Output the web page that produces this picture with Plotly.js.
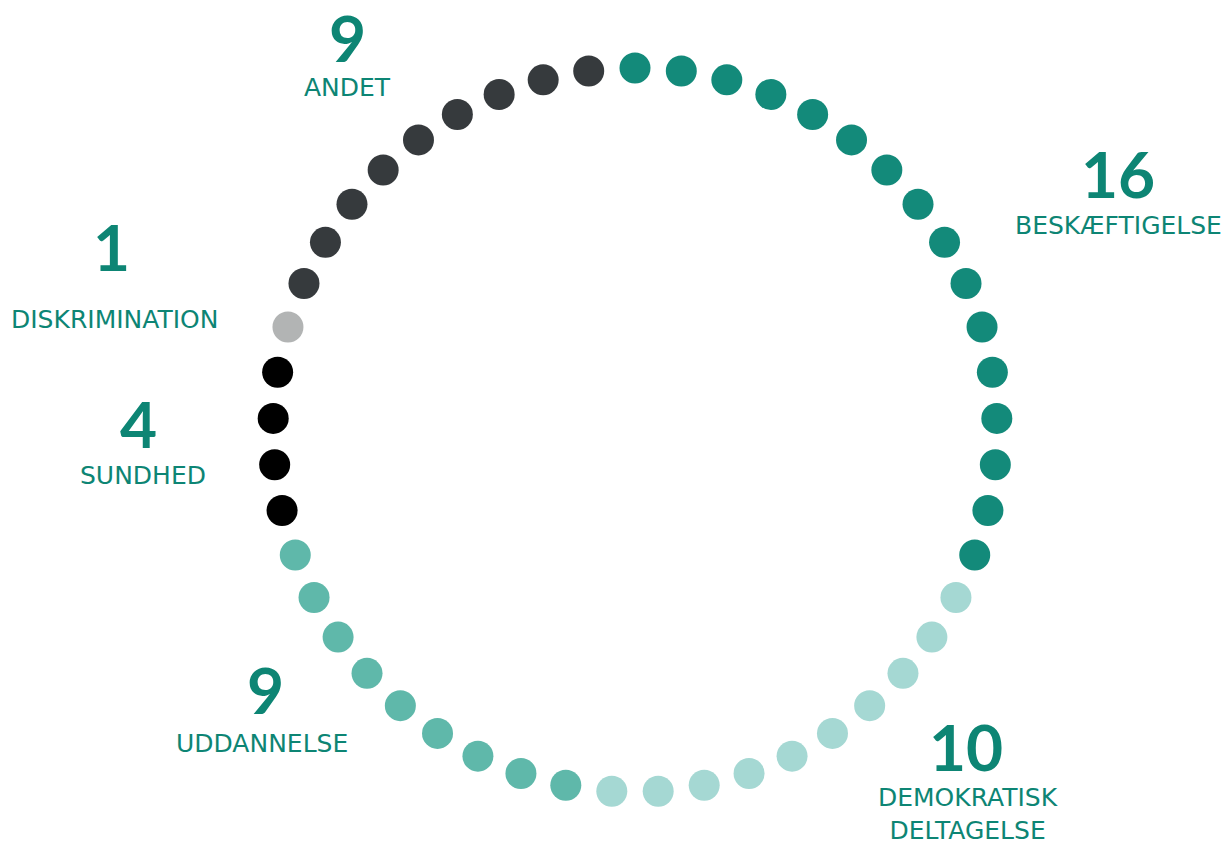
<!DOCTYPE html>
<html>
<head>
<meta charset="utf-8">
<script src="https://cdn.plot.ly/plotly-3.0.1.min.js"></script>
<style>html,body{margin:0;padding:0;background:#fff;}#chart{width:1226px;height:844px;}</style>
</head>
<body>
<div id="chart"></div>
<script>
// Data
const categories = ["BESKÆFTIGELSE", "DEMOKRATISK<br>DELTAGELSE", "UDDANNELSE", "SUNDHED", "DISKRIMINATION", "ANDET"];
const counts = [16, 10, 9, 4, 1, 9];
const colors = ["#138a7a", "#a5d8d3", "#5fb8aa", "#000000", "#b2b4b4", "#363a3d"];

const W = 1226, H = 844;
const cx = 635, cy = 430, rPx = 362, rMax = 1.1;
const outerPx = rPx * rMax;

const total = counts.reduce((a, b) => a + b, 0);
const step = 360 / total;

const traces = [];
let idx = 0;
categories.forEach((c, k) => {
  const theta = [], r = [];
  for (let j = 0; j < counts[k]; j++) { theta.push(idx * step); r.push(1); idx++; }
  traces.push({
    type: 'scatterpolar', mode: 'markers', name: c, theta: theta, r: r,
    marker: { size: 31, color: colors[k], line: { width: 0 } },
    hoverinfo: 'name', cliponaxis: false, showlegend: false
  });
});

// label positions (pixels)
const labelPos = [
  { nx: 1118, ny: 173, lx: 1118, ly: 226 },
  { nx: 966, ny: 746, lx: 968, ly: 814 },
  { nx: 265, ny: 689, lx: 262, ly: 743 },
  { nx: 138, ny: 423, lx: 143, ly: 475 },
  { nx: 111, ny: 246, lx: 114, ly: 319 },
  { nx: 347, ny: 38, lx: 347, ly: 87 }
];
const textColor = "#0d8574";
const annotations = [];
categories.forEach((c, k) => {
  const p = labelPos[k];
  annotations.push({
    xref: 'paper', yref: 'paper', x: p.nx / W, y: 1 - p.ny / H,
    xanchor: 'center', yanchor: 'middle', showarrow: false,
    text: '<b>' + counts[k] + '</b>',
    font: { family: 'Lato, "Noto Sans", sans-serif', size: 64, color: textColor, weight: 900 }
  });
  annotations.push({
    xref: 'paper', yref: 'paper', x: p.lx / W, y: 1 - p.ly / H,
    xanchor: 'center', yanchor: 'middle', showarrow: false,
    text: c, align: 'center',
    font: { family: '"DejaVu Sans", sans-serif', size: 25, color: textColor }
  });
});

const layout = {
  width: W, height: H,
  margin: { l: 0, r: 0, t: 0, b: 0 },
  paper_bgcolor: '#ffffff',
  showlegend: false,
  polar: {
    domain: { x: [(cx - outerPx) / W, (cx + outerPx) / W], y: [1 - (cy + outerPx) / H, 1 - (cy - outerPx) / H] },
    bgcolor: 'rgba(0,0,0,0)',
    radialaxis: { range: [0, rMax], visible: false, showgrid: false },
    angularaxis: { direction: 'clockwise', rotation: 90, visible: false, showgrid: false, showline: false, showticklabels: false, ticks: '' }
  },
  annotations: annotations
};

Plotly.newPlot('chart', traces, layout, { displayModeBar: false, staticPlot: true });
</script>
</body>
</html>
